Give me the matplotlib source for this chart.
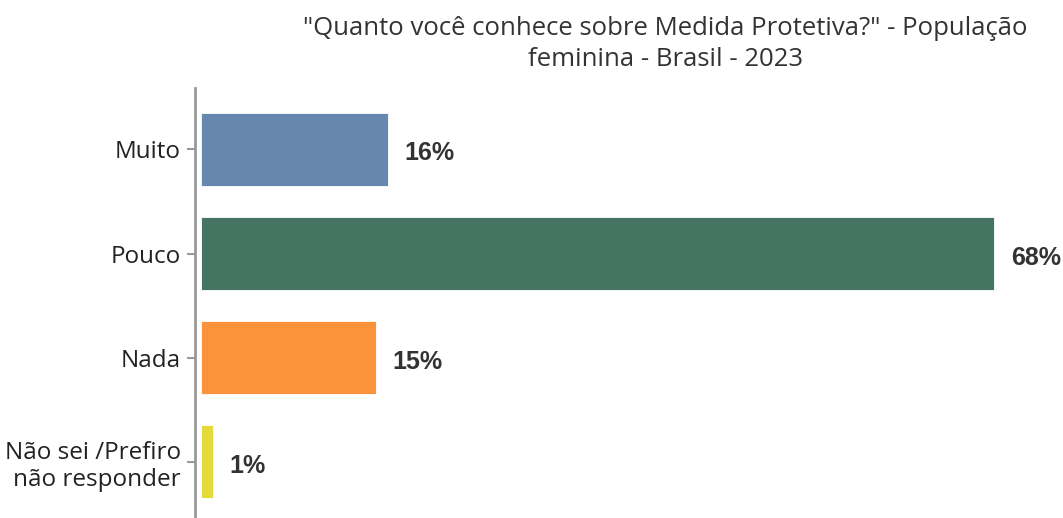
import matplotlib
matplotlib.use("Agg")
import matplotlib.pyplot as plt

categories = ["Muito", "Pouco", "Nada", "Não sei /Prefiro\nnão responder"]
values = [16, 68, 15, 1]
labels = ["16%", "68%", "15%", "1%"]
colors = ["#6688AE", "#467462", "#FB923C", "#E5DA3A"]

title = "\"Quanto você conhece sobre Medida Protetiva?\" - População\nfeminina - Brasil - 2023"

fig = plt.figure(figsize=(10.63, 5.18), dpi=100)
W, H = 1063, 518
# axes placed in pixel terms: left at x=195, top at y=88, reaching the bottom edge
ax = fig.add_axes([195 / W, 0, (W - 195) / W, (H - 88) / H])

ypos = list(range(len(categories)))
ax.barh(ypos, values, height=0.70, color=colors, edgecolor="white", linewidth=0.6)

for y, v, lab in zip(ypos, values, labels):
    ax.annotate(lab, (v, y), xytext=(17, -4), textcoords="offset pixels",
                ha="left", va="center", fontsize=18, fontweight="bold",
                family="Liberation Sans", color="#333333")

ax.set_ylim(3.54, -0.59)
ax.set_xlim(-0.5, 73.9)
ax.set_yticks(ypos)
ax.set_yticklabels(categories, fontsize=17.5, family="Open Sans", color="#222222",
                   linespacing=1.2)
ax.set_xticks([])
for side in ["top", "right", "bottom"]:
    ax.spines[side].set_visible(False)
ax.spines["left"].set_color("#999999")
ax.spines["left"].set_linewidth(2)
ax.tick_params(axis="y", length=6, width=1.5, color="#999999", pad=4)

fig.text(665 / W, 1 - 44 / H, title, ha="center", va="center", fontsize=18.5,
         family="Open Sans", color="#333333", linespacing=1.3)

fig.savefig("out.png", dpi=100)
